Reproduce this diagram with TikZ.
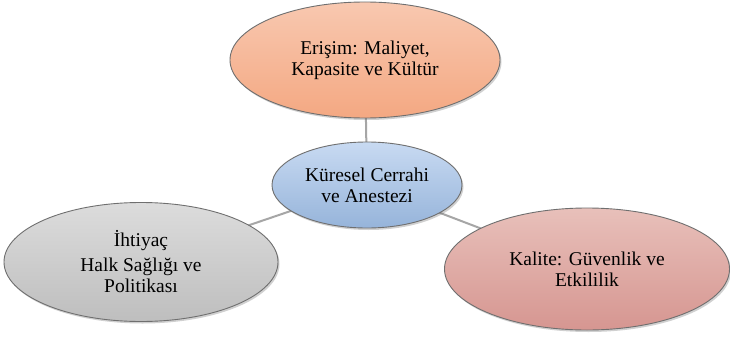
\documentclass[tikz,border=0pt]{standalone}
\usepackage{fontspec}
\setmainfont{Liberation Serif}
\usetikzlibrary{shapes.geometric,shadows}
\definecolor{linegray}{HTML}{A6A6A6}
\definecolor{edgegray}{HTML}{6F6F6F}
\begin{document}
\begin{tikzpicture}[x=1pt,y=-1pt,
  bubble/.style={ellipse, draw=edgegray, line width=0.9pt, inner sep=0pt, align=center,
    font=\fontsize{19.5}{21}\selectfont,
    drop shadow={shadow xshift=1.5pt, shadow yshift=-2pt, opacity=0.3, fill=black!60}},
  link/.style={draw=linegray, line width=2pt}]
\useasboundingbox (0,0) rectangle (730,337);
\fill[white] (0,0) rectangle (730,337);
\coordinate (cc) at (367,185);
\coordinate (tc) at (365,60);
\coordinate (lc) at (141,262);
\coordinate (rc) at (587,269);
\draw[link] (cc) -- (tc);
\draw[link] (cc) -- (lc);
\draw[link] (cc) -- (rc);
\node[bubble, minimum width=270pt, minimum height=116pt, top color={rgb,255:red,248;green,200;blue,176}, bottom color={rgb,255:red,244;green,168;blue,130}] (top) at (tc) {Erişim: Maliyet,\\Kapasite ve Kültür};
\node[bubble, minimum width=190pt, minimum height=86pt, top color={rgb,255:red,200;green,218;blue,242}, bottom color={rgb,255:red,150;green,180;blue,218}] (center) at (cc) {Küresel Cerrahi\\ve Anestezi};
\node[bubble, minimum width=274pt, minimum height=119pt, top color={rgb,255:red,220;green,220;blue,220}, bottom color={rgb,255:red,190;green,190;blue,190}] (left) at (lc) {İhtiyaç\\[4pt]Halk Sağlığı ve\\Politikası};
\node[bubble, minimum width=285pt, minimum height=122pt, top color={rgb,255:red,232;green,192;blue,186}, bottom color={rgb,255:red,214;green,150;blue,145}] (right) at (rc) {Kalite: Güvenlik ve\\Etkililik};
\end{tikzpicture}
\end{document}
